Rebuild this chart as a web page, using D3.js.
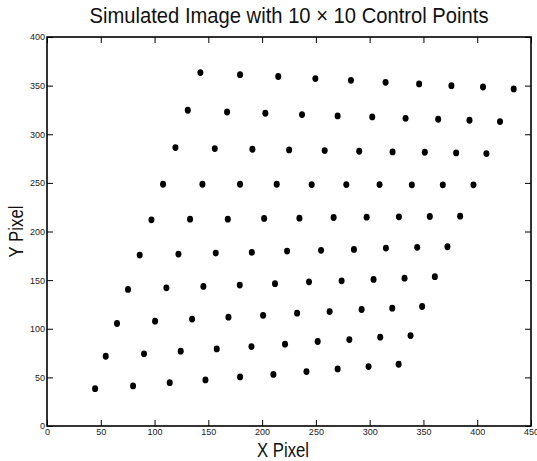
<!DOCTYPE html>
<html>
<head>
<meta charset="utf-8">
<script src="https://cdn.jsdelivr.net/npm/d3@7"></script>
<style>
  body { margin: 0; background: #fff; }
  text { font-family: "Liberation Sans", Arial, sans-serif; }
</style>
</head>
<body>
<div id="chart"></div>
<script>
// control point rows (bottom to top)
var rowX = [
  [44.7, 80, 114.1, 147.3, 179.5, 210.5, 241.2, 270.2, 299, 326.9],
  [54.6, 90.2, 124.3, 157.8, 190.1, 221.3, 251.7, 281.1, 309.8, 338],
  [65.1, 100.5, 134.9, 168.7, 200.9, 232.5, 262.8, 292.5, 321, 348.8],
  [75.3, 111, 145.4, 179.2, 212, 243.6, 273.9, 303.6, 332.4, 360.6],
  [86.2, 122.2, 156.9, 190.4, 223.2, 254.8, 285.4, 315.1, 344.2, 372.3],
  [97.1, 133, 168.1, 201.9, 234.7, 266.5, 297.2, 327.2, 355.9, 384.1],
  [107.9, 144.5, 179.5, 213.6, 246.1, 278.3, 309.2, 339.2, 368, 396.5],
  [119.4, 156, 191, 225.1, 258.2, 290.3, 321.3, 351.3, 380.4, 408.5],
  [130.9, 167.4, 203, 237.1, 270.2, 302.4, 333.4, 363.7, 392.8, 421.2],
  [142.6, 179.5, 215, 249.5, 282.6, 314.8, 346, 376, 405.4, 433.9]
];
var rowY = [
  [38.4, 41.2, 44.6, 47.4, 50.5, 53, 56, 58.7, 61.1, 63.5],
  [71.7, 74.2, 76.9, 79.3, 81.7, 84.1, 86.9, 88.9, 91.3, 93],
  [105.4, 107.8, 109.9, 111.9, 113.8, 116, 117.7, 119.8, 121.2, 122.9],
  [140.4, 142.1, 143.5, 144.9, 146.4, 148.3, 149.3, 150.7, 152, 153.5],
  [175.8, 176.8, 177.8, 178.5, 179.9, 180.6, 181.6, 183, 183.7, 184.3],
  [212, 212.7, 212.7, 213.4, 213.7, 214.4, 214.7, 215.1, 215.4, 215.8],
  [248.6, 248.6, 248.6, 248.6, 248.3, 248.3, 248.3, 248, 248, 248],
  [286.3, 285.3, 284.6, 283.9, 283.2, 282.5, 281.8, 281.5, 280.8, 280.1],
  [324.7, 322.9, 321.6, 320.2, 318.8, 317.8, 316.4, 315.4, 314.4, 313],
  [363.4, 361.3, 359.4, 357.2, 355.5, 353.4, 351.7, 350, 348.6, 346.6]
];
var xTicks = [0, 50, 100, 150, 200, 250, 300, 350, 400, 450];
var yTicks = [0, 50, 100, 150, 200, 250, 300, 350, 400];

var width = 537, height = 461;
var mLeft = 47, mRight = 531, mTop = 37, mBottom = 426;

var svg = d3.select("#chart").append("svg")
  .attr("width", width)
  .attr("height", height);

var x = d3.scaleLinear().domain([0, 450]).range([mLeft, mRight]);
var y = d3.scaleLinear().domain([0, 400]).range([mBottom, mTop]);

// flatten rows into points
var pts = [];
for (var i = 0; i < rowX.length; i++) {
  for (var j = 0; j < rowX[i].length; j++) {
    pts.push({x: rowX[i][j], y: rowY[i][j]});
  }
}

// axes, ticks pointing inward on all four sides
svg.append("g")
  .attr("transform", "translate(0," + mBottom + ")")
  .call(d3.axisBottom(x).tickValues(xTicks).tickSizeInner(-6).tickSizeOuter(0).tickPadding(3));
svg.append("g")
  .attr("transform", "translate(0," + mTop + ")")
  .call(d3.axisTop(x).tickValues(xTicks).tickSizeInner(-6).tickSizeOuter(0).tickFormat(""));
svg.append("g")
  .attr("transform", "translate(" + mLeft + ",0)")
  .call(d3.axisLeft(y).tickValues(yTicks).tickSizeInner(-6).tickSizeOuter(0).tickPadding(2));
svg.append("g")
  .attr("transform", "translate(" + mRight + ",0)")
  .call(d3.axisRight(y).tickValues(yTicks).tickSizeInner(-6).tickSizeOuter(0).tickFormat(""));

svg.selectAll(".tick text")
  .attr("font-family", "'Liberation Sans', Arial, sans-serif")
  .attr("font-size", 9)
  .attr("fill", "#222");
svg.selectAll(".tick line").attr("stroke", "#000").attr("stroke-width", 1);
svg.selectAll(".domain").attr("stroke", "none");

// frame
svg.append("rect")
  .attr("x", mLeft).attr("y", mTop)
  .attr("width", mRight - mLeft).attr("height", mBottom - mTop)
  .attr("fill", "none")
  .attr("stroke", "#000")
  .attr("stroke-width", 1.6);

// points
svg.append("g").selectAll("ellipse")
  .data(pts)
  .enter().append("ellipse")
  .attr("cx", function(d) { return x(d.x); })
  .attr("cy", function(d) { return y(d.y); })
  .attr("rx", 3)
  .attr("ry", 3.4)
  .attr("fill", "#000");

// title and labels
svg.append("text")
  .attr("x", (mLeft + mRight) / 2).attr("y", 23)
  .attr("text-anchor", "middle")
  .attr("font-size", 22)
  .attr("textLength", 399)
  .attr("lengthAdjust", "spacingAndGlyphs")
  .attr("fill", "#111")
  .text("Simulated Image with 10 \u00d7 10 Control Points");

svg.append("text")
  .attr("x", 283).attr("y", 457)
  .attr("text-anchor", "middle")
  .attr("font-size", 20)
  .attr("textLength", 52)
  .attr("lengthAdjust", "spacingAndGlyphs")
  .attr("fill", "#111")
  .text("X Pixel");

svg.append("text")
  .attr("transform", "translate(23," + ((mTop + mBottom) / 2) + ") rotate(-90)")
  .attr("text-anchor", "middle")
  .attr("font-size", 20)
  .attr("textLength", 52)
  .attr("lengthAdjust", "spacingAndGlyphs")
  .attr("fill", "#111")
  .text("Y Pixel");
</script>
</body>
</html>
